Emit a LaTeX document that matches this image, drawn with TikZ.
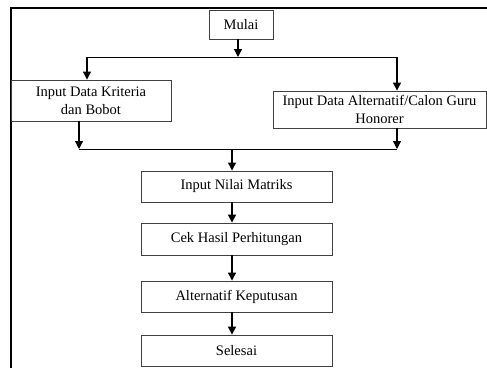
\documentclass[tikz,border=0pt]{standalone}
\usepackage{fontspec}
\setmainfont{Liberation Serif}
\usetikzlibrary{arrows.meta}
\begin{document}
\begin{tikzpicture}[x=1pt,y=-1pt,
  box/.style={draw=black!75,line width=0.9pt,inner sep=0pt,align=center,
    font=\fontsize{14.5}{18}\selectfont},
  arr/.style={line width=1.2pt,-{Triangle[length=8pt,width=8pt]}},
  ln/.style={line width=0.8pt}]
\useasboundingbox (0,0) rectangle (487,367);
\fill[white] (0,0) rectangle (487,367);
\draw[line width=2pt] (10.5,370) -- (10.5,7.5) -- (490,7.5);
\node[box,minimum width=64pt,minimum height=29pt] (mulai) at (241,24.5) {Mulai};
\node[box,minimum width=160pt,minimum height=41pt] (krit) at (91,100.5) {Input Data Kriteria\\dan Bobot};
\node[box,minimum width=213pt,minimum height=37pt] (alt) at (379.5,109.5) {Input Data Alternatif/Calon Guru\\Honorer};
\node[box,minimum width=191pt,minimum height=31pt] (nilai) at (236.5,186.5) {Input Nilai Matriks};
\node[box,minimum width=191pt,minimum height=32pt] (cek) at (236.5,239) {Cek Hasil Perhitungan};
\node[box,minimum width=191pt,minimum height=31pt] (kep) at (236.5,296.5) {Alternatif Keputusan};
\node[box,minimum width=191pt,minimum height=31pt] (sel) at (236.5,350.5) {Selesai};
\coordinate (s1) at (238,57);
\coordinate (s1l) at (87,57);
\coordinate (s1r) at (397,57);
\coordinate (s2) at (232,149);
\coordinate (s2l) at (79,149);
\coordinate (s2r) at (397,149);
\draw[arr] (mulai.south -| s1) -- (s1);
\draw[ln] (s1l) -- (s1r);
\draw[arr] (s1l) -- (s1l |- krit.north);
\draw[arr] (s1r) -- (s1r |- alt.north);
\draw[arr] (s2l |- krit.south) -- (s2l);
\draw[arr] (s2r |- alt.south) -- (s2r);
\draw[ln] (s2l) -- (s2r);
\draw[arr] (s2) -- (s2 |- nilai.north);
\draw[arr] (s2 |- nilai.south) -- (s2 |- cek.north);
\draw[arr] (s2 |- cek.south) -- (s2 |- kep.north);
\draw[arr] (s2 |- kep.south) -- (s2 |- sel.north);
\end{tikzpicture}
\end{document}
